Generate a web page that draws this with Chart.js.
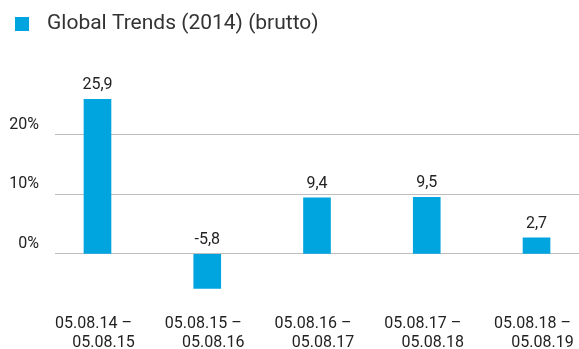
<!DOCTYPE html>
<html>
<head>
<meta charset="utf-8">
<script src="https://cdn.jsdelivr.net/npm/chart.js@4.4.1/dist/chart.umd.min.js"></script>
<style>
  html, body { margin: 0; padding: 0; background: #fff; }
  #wrap { width: 579px; height: 349px; position: relative; }
</style>
</head>
<body>
<div id="wrap"><canvas id="chart"></canvas></div>
<script>
const seriesName = 'Global Trends (2014) (brutto)';
// period labels, line 1 padded so the two lines sit staggered
const periods = [
  ['05.08.14 –  ', '   05.08.15'],
  ['05.08.15 –  ', '   05.08.16'],
  ['05.08.16 –  ', '   05.08.17'],
  ['05.08.17 –  ', '   05.08.18'],
  ['05.08.18 –  ', '   05.08.19'],
];
const returns = [25.9, -5.8, 9.4, 9.5, 2.7];
const yTicks = [0, 10, 20];

const xMin = -0.387;
const xMax = 4.387;

const barColor = '#00a5df';
const textColor = '#222222';

Chart.defaults.font.family = 'Roboto';
Chart.defaults.font.size = 16;
Chart.defaults.color = textColor;

// square legend marker
const marker = document.createElement('canvas');
marker.width = 14;
marker.height = 14;
const mctx = marker.getContext('2d');
mctx.fillStyle = barColor;
mctx.fillRect(0, 0, 14, 14);

const fmt = v => v.toFixed(1).replace('.', ',');

// value above every bar (above the zero line for negatives)
const valueLabels = {
  id: 'valueLabels',
  afterDatasetsDraw(chart) {
    const { ctx } = chart;
    const meta = chart.getDatasetMeta(0);
    ctx.save();
    ctx.font = '16px Roboto';
    ctx.fillStyle = textColor;
    ctx.textAlign = 'center';
    ctx.textBaseline = 'alphabetic';
    meta.data.forEach((bar, i) => {
      const top = Math.min(bar.y, bar.base);
      ctx.fillText(fmt(returns[i]), bar.x, top - 10);
    });
    ctx.restore();
  },
};

new Chart(document.getElementById('chart'), {
  type: 'bar',
  data: {
    datasets: [{
      label: seriesName,
      data: returns.map((v, i) => ({ x: i, y: v })),
      backgroundColor: barColor,
      barThickness: 27,
    }],
  },
  options: {
    responsive: true,
    maintainAspectRatio: false,
    animation: false,
    layout: {
      padding: { top: 6, left: 0, right: 0, bottom: 0 },
    },
    scales: {
      x: {
        type: 'linear',
        bounds: 'data',
        offset: false,
        min: xMin,
        max: xMax,
        grid: { display: false },
        border: { display: false },
        afterBuildTicks: scale => {
          scale.ticks = periods.map((p, i) => ({ value: i }));
          scale.min = xMin;
          scale.max = xMax;
        },
        afterFit: scale => {
          scale.height = 45;
          scale.paddingLeft = 0;
          scale.paddingRight = 0;
        },
        ticks: {
          padding: 3,
          maxRotation: 0,
          autoSkip: false,
          font: { lineHeight: 1.16 },
          callback: value => periods[value],
        },
      },
      y: {
        min: -8.4,
        max: 35.1,
        border: { display: false },
        grid: {
          color: '#bdbdbd',
          lineWidth: 1,
          drawTicks: false,
        },
        afterBuildTicks: scale => {
          scale.ticks = yTicks.map(v => ({ value: v }));
        },
        afterFit: scale => {
          scale.width = 55;
        },
        ticks: {
          padding: 16,
          labelOffset: -10,
          callback: value => value + '%',
        },
      },
    },
    plugins: {
      legend: {
        align: 'start',
        labels: {
          usePointStyle: true,
          pointStyle: marker,
          pointStyleWidth: 29,
          boxHeight: 14,
          padding: 7.5,
          color: '#333333',
          font: { size: 21 },
        },
      },
      tooltip: { enabled: false },
    },
  },
  plugins: [valueLabels],
});
</script>
</body>
</html>
